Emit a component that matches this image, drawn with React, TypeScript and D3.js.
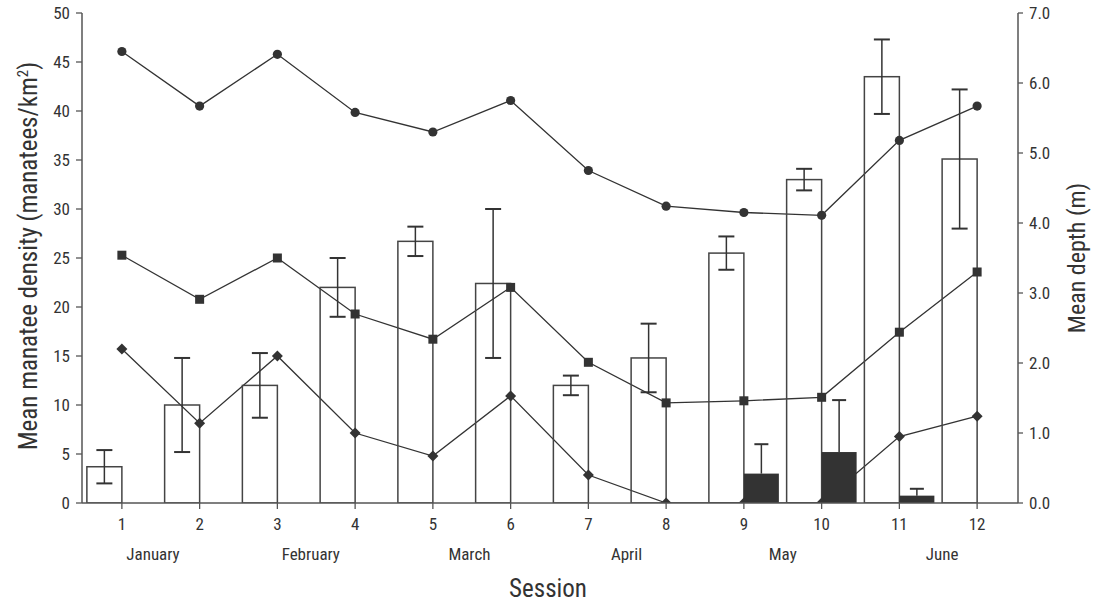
import React from "react";
import * as d3 from "d3";

const sessions = [1, 2, 3, 4, 5, 6, 7, 8, 9, 10, 11, 12];
// White bars: mean manatee density and SE
const densityA = [3.7, 10.0, 12.0, 22.0, 26.7, 22.4, 12.0, 14.8, 25.5, 33.0, 43.5, 35.1];
const errA = [1.7, 4.8, 3.3, 3.0, 1.5, 7.6, 1.0, 3.5, 1.7, 1.1, 3.8, 7.1];
// Black bars
const densityB = [0, 0, 0, 0, 0, 0, 0, 0, 3.0, 5.2, 0.75, 0];
const errB = [0, 0, 0, 0, 0, 0, 0, 0, 3.0, 5.3, 0.7, 0];
// Depth lines (m)
const depthCircle = [6.45, 5.67, 6.41, 5.58, 5.3, 5.75, 4.75, 4.24, 4.15, 4.11, 5.18, 5.67];
const depthSquare = [3.54, 2.91, 3.5, 2.7, 2.34, 3.08, 2.01, 1.43, 1.46, 1.51, 2.44, 3.3];
const depthDiamond = [2.2, 1.14, 2.1, 1.0, 0.67, 1.53, 0.4, 0, 0, 0, 0.95, 1.24];

const leftTicks = [0, 5, 10, 15, 20, 25, 30, 35, 40, 45, 50];
const rightTicks = [0, 1, 2, 3, 4, 5, 6, 7];
const months = ["January", "February", "March", "April", "May", "June"];
const monthPos = [1.4, 3.43, 5.47, 7.49, 9.5, 11.55];

const FONT = "'Liberation Sans Narrow', 'Arial Narrow', 'Roboto Condensed', 'Liberation Sans', sans-serif";
const INK = "#333";

export default function App() {
  const W = 1094, H = 602;
  const x = d3.scaleBand<number>().domain(sessions).range([83, 1016]).padding(0);
  const bw = x.bandwidth();
  const cx = (s: number) => (x(s) as number) + bw / 2;
  const xs = d3.scaleLinear().domain([1, 12]).range([cx(1), cx(12)]);
  const yL = d3.scaleLinear().domain([0, 50]).range([503, 13]);
  const yR = d3.scaleLinear().domain([0, 7]).range([503, 13]);
  const barW = 35;
  const cap = 8;

  const line = d3.line<number>().x((_, i) => cx(sessions[i])).y((d) => yR(d));

  const xAxisLeft = 82, xAxisRight = 1018;

  return (
    <svg width={W} height={H} style={{ position: "absolute", left: 0, top: 0 }} fontFamily={FONT}>
      <defs>
        <clipPath id="plot">
          <rect x={xAxisLeft} y={0} width={xAxisRight - xAxisLeft} height={503} />
        </clipPath>
      </defs>
      <rect width={W} height={H} fill="#fff" />
      <g clipPath="url(#plot)">
        {/* lines */}
        {[depthCircle, depthSquare, depthDiamond].map((s, k) => (
          <path key={k} d={line(s) || ""} fill="none" stroke={INK} strokeWidth={1.3} />
        ))}
        {/* white bars */}
        {sessions.map((s, i) => (
          <g key={"a" + s}>
            <rect x={cx(s) - barW} y={yL(densityA[i])} width={barW} height={yL(0) - yL(densityA[i])}
              fill="none" stroke="#444" strokeWidth={1.5} />
            <line x1={cx(s) - barW / 2} x2={cx(s) - barW / 2} y1={yL(densityA[i] + errA[i])} y2={yL(densityA[i] - errA[i])} stroke={INK} strokeWidth={1.5} />
            <line x1={cx(s) - barW / 2 - cap} x2={cx(s) - barW / 2 + cap} y1={yL(densityA[i] + errA[i])} y2={yL(densityA[i] + errA[i])} stroke={INK} strokeWidth={2} />
            <line x1={cx(s) - barW / 2 - cap} x2={cx(s) - barW / 2 + cap} y1={yL(densityA[i] - errA[i])} y2={yL(densityA[i] - errA[i])} stroke={INK} strokeWidth={2} />
          </g>
        ))}
        {/* black bars */}
        {sessions.map((s, i) =>
          densityB[i] > 0 ? (
            <g key={"b" + s}>
              <rect x={cx(s)} y={yL(densityB[i])} width={barW} height={yL(0) - yL(densityB[i])} fill={INK} />
              <line x1={cx(s) + barW / 2} x2={cx(s) + barW / 2} y1={yL(densityB[i] + errB[i])} y2={yL(densityB[i])} stroke={INK} strokeWidth={1.5} />
              <line x1={cx(s) + barW / 2 - 7} x2={cx(s) + barW / 2 + 7} y1={yL(densityB[i] + errB[i])} y2={yL(densityB[i] + errB[i])} stroke={INK} strokeWidth={2} />
            </g>
          ) : null
        )}
        {/* markers */}
        {sessions.map((s, i) => (
          <g key={"m" + s} fill={INK}>
            <circle cx={cx(s)} cy={yR(depthCircle[i])} r={4.6} />
            <rect x={cx(s) - 4.5} y={yR(depthSquare[i]) - 4.5} width={9} height={9} />
            <path d={`M${cx(s)},${yR(depthDiamond[i]) - 5.5} l5.5,5.5 l-5.5,5.5 l-5.5,-5.5 Z`} />
          </g>
        ))}
      </g>
      {/* axes */}
      <line x1={xAxisLeft} x2={xAxisRight} y1={503} y2={503} stroke="#555" strokeWidth={1.5} />
      <line x1={xAxisLeft} x2={xAxisLeft} y1={13} y2={503} stroke="#555" strokeWidth={1.5} />
      <line x1={xAxisRight} x2={xAxisRight} y1={13} y2={503} stroke="#555" strokeWidth={1.5} />
      {leftTicks.map((t) => (
        <g key={"l" + t}>
          <line x1={xAxisLeft - 6} x2={xAxisLeft} y1={yL(t)} y2={yL(t)} stroke="#555" strokeWidth={1.3} />
          <text x={xAxisLeft - 12} y={yL(t)} dy="0.36em" textAnchor="end" fontSize={17} fill={INK}>{t}</text>
        </g>
      ))}
      {rightTicks.map((t) => (
        <g key={"r" + t}>
          <line x1={xAxisRight} x2={xAxisRight + 5} y1={yR(t)} y2={yR(t)} stroke="#555" strokeWidth={1.3} />
          <text x={xAxisRight + 11} y={yR(t)} dy="0.36em" textAnchor="start" fontSize={17} fill={INK}>{t.toFixed(1)}</text>
        </g>
      ))}
      {sessions.map((s) => (
        <g key={"x" + s}>
          <line x1={cx(s)} x2={cx(s)} y1={503} y2={509} stroke="#555" strokeWidth={1.3} />
          <text x={cx(s)} y={530} textAnchor="middle" fontSize={17} fill={INK}>{s}</text>
        </g>
      ))}
      {months.map((m, i) => (
        <text key={m} x={xs(monthPos[i])} y={560} textAnchor="middle" fontSize={17} fill={INK}>{m}</text>
      ))}
      <text x={(xAxisLeft + xAxisRight) / 2 - 2} y={597} textAnchor="middle" fontSize={25} fill={INK}>Session</text>
      <text transform={`translate(37,256) rotate(-90)`} textAnchor="middle" fontSize={25} fill={INK}>
        Mean manatee density (manatees/km<tspan dy="-9" fontSize={15}>2</tspan><tspan dy="9">)</tspan>
      </text>
      <text transform={`translate(1085,258) rotate(-90)`} textAnchor="middle" fontSize={24} fill={INK}>Mean depth (m)</text>
    </svg>
  );
}
